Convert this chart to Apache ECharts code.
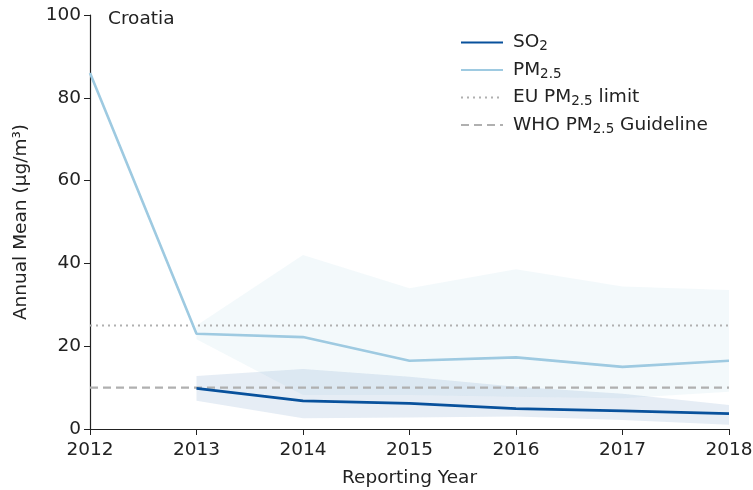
<!DOCTYPE html>
<html><head><meta charset="utf-8">
<script src="https://cdn.jsdelivr.net/npm/echarts@6/dist/echarts.min.js"></script>
<style>html,body{margin:0;padding:0;background:#fff}#c{width:753px;height:490px}</style>
</head><body><div id="c"></div>
<script>
const years = ['2012','2013','2014','2015','2016','2017','2018'];
const pm25 = [86, 23.0, 22.2, 16.5, 17.3, 15.0, 16.5];
const pm25Low = [null, 21.7, 8.2, 8.2, 7.8, 7.4, 9.0];
const pm25High = [null, 25.0, 42.0, 34.0, 38.6, 34.4, 33.6];
const so2 = [null, 9.8, 6.8, 6.2, 4.9, 4.4, 3.7];
const so2Low = [null, 6.8, 2.6, 2.8, 3.0, 2.2, 1.0];
const so2High = [null, 12.8, 14.5, 12.6, 10.2, 8.5, 5.8];
const euLimit = 25;
const whoGuideline = 10;
const yTicks = [0, 20, 40, 60, 80, 100];

const F = 'DejaVu Sans';
const FS = 18.5;
const diff = (hi, lo) => hi.map((v, i) => (v == null || lo[i] == null) ? '-' : +(v - lo[i]).toFixed(2));
const nz = a => a.map(v => v == null ? '-' : v);
const rich = {
  n: {fontFamily: F, fontSize: FS, color: '#222'},
  s: {fontFamily: F, fontSize: 13.5, color: '#222', padding: [8, 0, 0, 0]}
};
const chart = echarts.init(document.getElementById('c'));
chart.setOption({
  animation: false,
  grid: {left: 90, right: 24, top: 15, bottom: 61, containLabel: false, outerBoundsMode: 'none'},
  graphic: [{type: 'text', left: 108, top: 10, style: {text: 'Croatia', font: FS + 'px "DejaVu Sans"', fill: '#222'}}],
  legend: {
    orient: 'vertical', left: 455, top: 28, itemWidth: 42, itemHeight: 14, itemGap: 7,
    data: ['SO2', 'PM2.5', 'EU', 'WHO'],
    itemStyle: {opacity: 0},
    formatter: function (n) {
      if (n === 'SO2') return '{n|SO}{s|2}';
      if (n === 'PM2.5') return '{n|PM}{s|2.5}';
      if (n === 'EU') return '{n|EU PM}{s|2.5}{n| limit}';
      return '{n|WHO PM}{s|2.5}{n| Guideline}';
    },
    textStyle: {rich: rich, fontFamily: F, fontSize: FS, padding: [0, 0, 0, 5]}
  },
  xAxis: {
    type: 'category', data: years, boundaryGap: false,
    name: 'Reporting Year', nameLocation: 'middle', nameGap: 40,
    nameTextStyle: {fontFamily: F, fontSize: FS, color: '#222'},
    axisLine: {lineStyle: {color: '#222', width: 1.2}},
    axisTick: {alignWithLabel: true, length: 6, lineStyle: {color: '#222'}},
    axisLabel: {fontFamily: F, fontSize: FS, color: '#222', margin: 12},
    splitLine: {show: false}
  },
  yAxis: {
    type: 'value', min: yTicks[0], max: yTicks[yTicks.length - 1], interval: 20,
    name: 'Annual Mean (μg/m³)', nameLocation: 'middle', nameGap: 59,
    nameTextStyle: {fontFamily: F, fontSize: FS, color: '#222'},
    axisLine: {show: true, lineStyle: {color: '#222', width: 1.2}},
    axisTick: {show: true, length: 6, lineStyle: {color: '#222'}},
    axisLabel: {fontFamily: F, fontSize: FS, color: '#222', margin: 9},
    splitLine: {show: false}
  },
  series: [
    {name: 'pmLow', type: 'line', stack: 'pm', data: nz(pm25Low), symbol: 'none', lineStyle: {opacity: 0}, silent: true},
    {name: 'pmBand', type: 'line', stack: 'pm', data: diff(pm25High, pm25Low), symbol: 'none', lineStyle: {opacity: 0},
      areaStyle: {color: 'rgba(158,202,225,0.12)', opacity: 1}, silent: true},
    {name: 'so2Low', type: 'line', stack: 'so2', data: nz(so2Low), symbol: 'none', lineStyle: {opacity: 0}, silent: true},
    {name: 'so2Band', type: 'line', stack: 'so2', data: diff(so2High, so2Low), symbol: 'none', lineStyle: {opacity: 0},
      areaStyle: {color: 'rgba(8,81,156,0.1)', opacity: 1}, silent: true},
    {name: 'EU', type: 'line', data: years.map(() => euLimit), symbol: 'none',
      lineStyle: {color: '#b0b0b0', width: 2, type: [2, 4]}, itemStyle: {color: '#b0b0b0'}},
    {name: 'WHO', type: 'line', data: years.map(() => whoGuideline), symbol: 'none',
      lineStyle: {color: '#b0b0b0', width: 2.4, type: [8, 5]}, itemStyle: {color: '#b0b0b0'}},
    {name: 'PM2.5', type: 'line', data: nz(pm25), symbol: 'none',
      lineStyle: {color: '#9ecae1', width: 2.6}, itemStyle: {color: '#9ecae1'}},
    {name: 'SO2', type: 'line', data: nz(so2), symbol: 'none',
      lineStyle: {color: '#08519c', width: 2.8}, itemStyle: {color: '#08519c'}}
  ]
});
</script></body></html>
